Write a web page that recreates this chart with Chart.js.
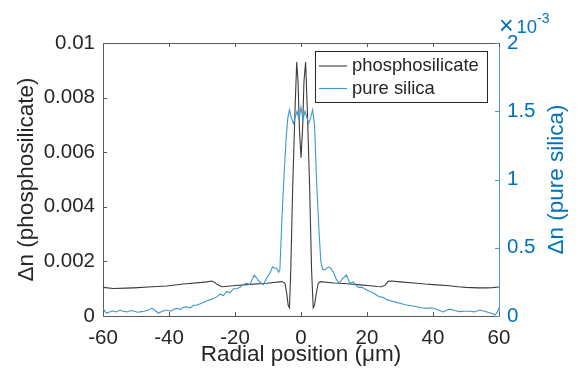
<!DOCTYPE html>
<html>
<head>
<meta charset="utf-8">
<script src="https://cdn.jsdelivr.net/npm/chart.js@4"></script>
<style>
  body { margin: 0; background: #ffffff; }
  #wrap { width: 579px; height: 378px; }
</style>
</head>
<body>
<div id="wrap"><canvas id="chart" width="579" height="378"></canvas></div>
<script>
// phosphosilicate profile, left axis
const phosX = [-60, -56.9, -53, -50.8, -45, -40.7, -35.7, -30, -28.6, -27.1, -26.2, -25.5, -24, -20.5, -15.5, -10.4, -5.8,
  -4.85, -4.3, -3.9, -3.5, -3.1, -2.5, -1.8, -1.3, -0.9, -0.5, 0, 0.5, 0.9, 1.4, 1.9, 2.6, 3.2, 3.7,
  4.1, 4.6, 5.2, 5.8, 10, 14, 18, 21, 23, 24.4, 25.5, 26.4, 27.5, 30, 35, 37.6, 40, 45, 47.6, 50, 53.7, 56, 58, 60];
const phosN = [0.00105, 0.00101, 0.00102, 0.00103, 0.00107, 0.0011, 0.00117, 0.00123, 0.00125, 0.00128, 0.00124, 0.00116, 0.00107, 0.00111, 0.00116, 0.0012, 0.00126,
  0.0012, 0.0008, 0.0004, 0.0003, 0.0017, 0.0048, 0.0076, 0.0093, 0.0086, 0.0069, 0.0058, 0.0069, 0.0086, 0.0093, 0.0076, 0.0048, 0.0017, 0.0003,
  0.0004, 0.0008, 0.0012, 0.00126, 0.00121, 0.00118, 0.00114, 0.00111, 0.00108, 0.00107, 0.00113, 0.00127, 0.00128, 0.00125, 0.0012, 0.00117, 0.00115, 0.00111, 0.00107, 0.00105, 0.00103, 0.00103, 0.00104, 0.00106];

// pure silica profile, right axis (x 10^-3)
const silX = [-60, -59.5, -58.9, -58, -57, -56, -54.8, -54, -52.8, -51.5, -50.8, -49.5, -48.8, -47.5, -46, -45.2, -44.2, -43.2, -42, -40.7,
  -39.5, -38.5, -37.7, -36.5, -35.5, -34.6, -33.5, -32.5, -31.6, -30.5, -29.5, -28.6, -27.5, -26.5, -25.5, -24.5, -23.5, -22.5, -21.5, -20.5,
  -19.5, -18.5, -17.5, -16.5, -15.5, -14.2, -13.5, -12.9, -12, -11.4, -10.4, -9.5, -8.6, -8, -7.4, -6.8, -6.4, -5.8, -5.1, -4.5,
  -4, -3.5, -2.9, -2.3, -1.7, -1.2, -0.6, 0, 0.6, 1.2, 1.7, 2.3, 2.9, 3.5, 4.1, 4.7, 5.4, 6, 6.6, 7.3,
  8.3, 9, 9.8, 10.7, 11.6, 12.5, 13.8, 14.3, 14.8, 15.8, 16.5, 17.4, 18.5, 19.9, 21, 21.9, 23, 24, 25, 26,
  27.5, 29, 30.5, 32, 33.5, 35.1, 36.5, 38.1, 39.5, 41.1, 42, 43.1, 44, 45.1, 46.5, 48.1, 49.5, 51.2, 52.5, 54.2,
  55.5, 57.2, 58.2, 58.8, 59.5, 60];
const silN = [0.06, 0.035, 0.022, 0.03, 0.037, 0.03, 0.044, 0.035, 0.03, 0.04, 0.036, 0.028, 0.03, 0.035, 0.045, 0.058, 0.04, 0.022, 0.035, 0.044,
  0.035, 0.05, 0.056, 0.048, 0.065, 0.068, 0.06, 0.078, 0.08, 0.09, 0.1, 0.11, 0.12, 0.128, 0.14, 0.16, 0.15, 0.18, 0.17, 0.2,
  0.2, 0.21, 0.23, 0.24, 0.23, 0.3, 0.28, 0.26, 0.24, 0.23, 0.28, 0.31, 0.36, 0.35, 0.35, 0.32, 0.34, 0.7, 1.05, 1.3,
  1.45, 1.51, 1.45, 1.41, 1.46, 1.5, 1.44, 1.53, 1.44, 1.5, 1.46, 1.41, 1.45, 1.51, 1.4, 1.0, 0.65, 0.4, 0.34, 0.34,
  0.36, 0.35, 0.32, 0.27, 0.24, 0.27, 0.3, 0.27, 0.24, 0.25, 0.23, 0.21, 0.21, 0.19, 0.18, 0.17, 0.15, 0.14, 0.135, 0.12,
  0.11, 0.1, 0.09, 0.08, 0.075, 0.068, 0.06, 0.056, 0.06, 0.05, 0.04, 0.03, 0.04, 0.05, 0.04, 0.032, 0.035, 0.035, 0.03, 0.044,
  0.035, 0.024, 0.015, 0.007, 0.03, 0.056];

const seriesNames = ["phosphosilicate", "pure silica"];
const xTicks = [-60, -40, -20, 0, 20, 40, 60];

const textCol = "#262626";
const blue = "#0072bd";
const font = "'Liberation Sans', Arial, sans-serif";
Chart.defaults.font.family = font;

function toPoints(xs, ys) {
    return xs.map((x, i) => ({ x: x, y: ys[i] }));
}

// inward tick marks, top box line, legend box, right title and exponent label
const matlabAxes = {
    id: "matlabAxes",
    afterDraw(chart) {
        const ctx = chart.ctx;
        const a = chart.chartArea;
        const xs = chart.scales.x, yl = chart.scales.y, yr = chart.scales.y2;
        const len = 4;
        ctx.save();
        ctx.lineWidth = 1;
        ctx.strokeStyle = "#5a5a5a";
        ctx.beginPath();
        ctx.moveTo(a.left, a.top + 0.5);
        ctx.lineTo(a.right, a.top + 0.5);
        xs.ticks.forEach(t => {
            const px = Math.round(xs.getPixelForValue(t.value)) + 0.5;
            ctx.moveTo(px, a.bottom);
            ctx.lineTo(px, a.bottom - len);
            ctx.moveTo(px, a.top);
            ctx.lineTo(px, a.top + len);
        });
        yl.ticks.forEach(t => {
            const py = Math.round(yl.getPixelForValue(t.value)) + 0.5;
            ctx.moveTo(a.left, py);
            ctx.lineTo(a.left + len, py);
        });
        ctx.stroke();
        ctx.strokeStyle = "#4a9ad6";
        ctx.beginPath();
        yr.ticks.forEach(t => {
            const py = Math.round(yr.getPixelForValue(t.value)) + 0.5;
            ctx.moveTo(a.right, py);
            ctx.lineTo(a.right - len, py);
        });
        ctx.stroke();

        // legend box
        const lx = 315, ly = 51, lw = 172, lh = 51;
        ctx.fillStyle = "#ffffff";
        ctx.fillRect(lx, ly, lw, lh);
        ctx.strokeStyle = textCol;
        ctx.strokeRect(lx + 0.5, ly + 0.5, lw, lh);
        const rows = [66, 88.5];
        chart.data.datasets.forEach((ds, i) => {
            ctx.strokeStyle = ds.borderColor;
            ctx.lineWidth = 1.1;
            ctx.beginPath();
            ctx.moveTo(319, rows[i]);
            ctx.lineTo(347, rows[i]);
            ctx.stroke();
            ctx.fillStyle = textCol;
            ctx.font = "18.4px " + font;
            ctx.textBaseline = "middle";
            ctx.textAlign = "left";
            ctx.fillText(ds.label, 352, rows[i]);
        });

        // right axis title, reading bottom to top
        ctx.save();
        ctx.translate(557, (a.top + a.bottom) / 2);
        ctx.rotate(-Math.PI / 2);
        ctx.fillStyle = blue;
        ctx.font = "22.5px " + font;
        ctx.textAlign = "center";
        ctx.textBaseline = "middle";
        ctx.fillText("\u0394n (pure silica)", 0, 0);
        ctx.restore();

        // x10^-3 on the right axis
        ctx.fillStyle = blue;
        ctx.textAlign = "left";
        ctx.textBaseline = "alphabetic";
        ctx.font = "25px " + font;
        ctx.fillText("\u00d7", 499, 34);
        ctx.font = "18.5px " + font;
        ctx.fillText("10", 516.5, 33);
        ctx.font = "14px " + font;
        ctx.fillText("-3", 537, 23);
        ctx.restore();
    }
};

const chart = new Chart(document.getElementById("chart"), {
    type: "line",
    data: {
        datasets: [
            {
                label: seriesNames[0],
                data: toPoints(phosX, phosN),
                yAxisID: "y",
                borderColor: "#3c3c3c",
                borderWidth: 1.1,
                pointRadius: 0,
                tension: 0,
                order: 1
            },
            {
                label: seriesNames[1],
                data: toPoints(silX, silN),
                yAxisID: "y2",
                borderColor: "#3d97d3",
                borderWidth: 1.1,
                pointRadius: 0,
                tension: 0,
                order: 0
            }
        ]
    },
    options: {
        responsive: false,
        animation: false,
        layout: { padding: { top: 43, left: 0, right: 0, bottom: 0 } },
        plugins: {
            legend: { display: false },
            tooltip: { enabled: false }
        },
        scales: {
            x: {
                type: "linear",
                min: -60,
                max: 60,
                afterBuildTicks: s => { s.ticks = xTicks.map(v => ({ value: v })); },
                afterFit: s => { s.height = 62; },
                grid: { drawOnChartArea: false, drawTicks: false },
                border: { color: "#5a5a5a" },
                ticks: { color: textCol, font: { size: 20.5 }, padding: 10, maxRotation: 0 },
                title: { display: true, text: "Radial position (\u03bcm)", color: textCol, font: { size: 22.5 }, padding: { top: 0, bottom: 10 } }
            },
            y: {
                position: "left",
                min: 0,
                max: 0.01,
                afterFit: s => { s.width = 103; },
                grid: { drawOnChartArea: false, drawTicks: false },
                border: { color: "#5a5a5a" },
                ticks: {
                    stepSize: 0.002,
                    color: textCol,
                    font: { size: 20.5 },
                    padding: 8,
                    callback: v => String(parseFloat(v.toFixed(3)))
                },
                title: { display: true, text: "\u0394n (phosphosilicate)", color: textCol, font: { size: 22.5 }, padding: { top: 13, bottom: 0 } }
            },
            y2: {
                position: "right",
                min: 0,
                max: 2,
                afterFit: s => { s.width = 80; },
                grid: { drawOnChartArea: false, drawTicks: false },
                border: { color: "#4a9ad6" },
                ticks: {
                    stepSize: 0.5,
                    color: blue,
                    font: { size: 20.5 },
                    padding: 8,
                    callback: v => String(parseFloat(v.toFixed(1)))
                },
                title: { display: false }
            }
        }
    },
    plugins: [matlabAxes]
});
</script>
</body>
</html>
